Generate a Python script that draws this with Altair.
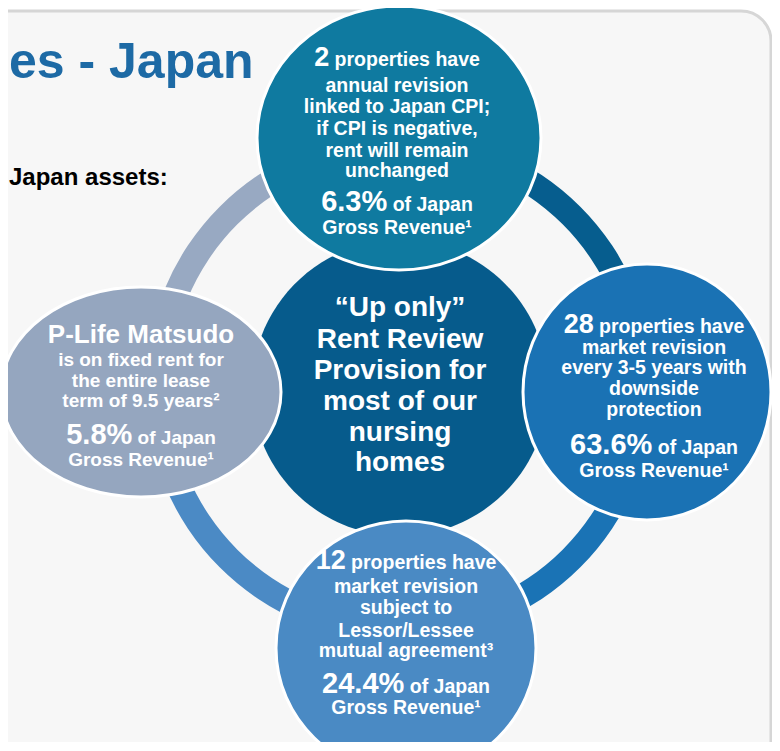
import altair as alt
import pandas as pd
import math

# ---------------- content ----------------
TITLE = "es - Japan"
SUBTITLE = "Japan assets:"
CENTER_LINES = ["\u201cUp only\u201d", "Rent Review", "Provision for", "most of our", "nursing", "homes"]

property_counts = {"top": "2", "right": "28", "bottom": "12"}
revenue_share = {"top": "6.3%", "right": "63.6%", "bottom": "24.4%", "left": "5.8%"}
count_suffix = "properties have"
share_suffix = "of Japan"
share_footer = "Gross Revenue\u00b9"

top_body = ["annual revision", "linked to Japan CPI;", "if CPI is negative,", "rent will remain", "unchanged"]
right_body = ["market revision", "every 3-5 years with", "downside", "protection"]
bottom_body = ["market revision", "subject to", "Lessor/Lessee", "mutual agreement\u00b3"]
left_head = "P-Life Matsudo"
left_body = ["is on fixed rent for", "the entire lease", "term of 9.5 years\u00b2"]

ring_segments = ["top-right", "bottom-right", "bottom-left", "top-left"]

# ---------------- layout / style ----------------
W, H = 764, 734
FONT = "Liberation Sans"
sx = alt.Scale(domain=[8, 8 + W], nice=False, zero=False)
sy = alt.Scale(domain=[8, 8 + H], nice=False, zero=False, reverse=True)

CIRCLES = {
    "center": dict(cx=400, cy=388, rx=148, ry=148, fill="#065b8c", stroke=0),
    "top":    dict(cx=399, cy=138, rx=142, ry=132, fill="#0f7aa0", stroke=3),
    "right":  dict(cx=647, cy=392, rx=124, ry=128, fill="#1a72b4", stroke=3),
    "bottom": dict(cx=406, cy=648, rx=130, ry=127, fill="#4a8ac4", stroke=3),
    "left":   dict(cx=141, cy=392, rx=140, ry=105, fill="#95a6bf", stroke=3),
}
RING = dict(cx=400, cy=387, outer=255, inner=230)
RING_COLORS = ["#065d8e", "#1a73b5", "#4b8ac5", "#98a9c2"]

TEXT_X = {"top": 397, "right": 654, "bottom": 406, "left": 141, "center": 400}
BASELINES = {
    "top": [66, 92, 113, 135, 157, 177, 211, 234],
    "right": [333, 354, 374, 395, 416, 454, 477],
    "bottom": [569, 593, 614, 637, 657, 693, 714],
    "left": [343, 366, 387, 407, 444, 466],
    "center": [316, 348, 379, 410, 441, 471],
}
SMALL = {"top": 19.5, "right": 19.5, "bottom": 19.5, "left": 19}
BIG_COUNT, BIG_SHARE, HEAD, CENTER_SIZE = 27, 29, 26, 28

# Arial/Liberation Sans Bold advance widths (per 1000 em)
WB = {" ": 278, "%": 889, "-": 333, ".": 278, "/": 278, ":": 333, ";": 333, ",": 278,
      "A": 722, "C": 722, "G": 778, "I": 278, "J": 556, "L": 611, "M": 833, "P": 667, "R": 722,
      "a": 556, "b": 611, "c": 556, "d": 611, "e": 556, "f": 333, "g": 611, "h": 611, "i": 278,
      "j": 278, "k": 556, "l": 278, "m": 889, "n": 611, "o": 611, "p": 611, "r": 389, "s": 556,
      "t": 333, "u": 611, "v": 556, "w": 778, "x": 556, "y": 556}


def tw(s, size):
    return sum(WB.get(ch, 556) for ch in s) * size / 1000.0


def ellipse_path(k):
    c = 0.5523
    return (f"M -1 0 C -1 {-k*c:.4f} {-c} {-k:.4f} 0 {-k:.4f} "
            f"C {c} {-k:.4f} 1 {-k*c:.4f} 1 0 "
            f"C 1 {k*c:.4f} {c} {k:.4f} 0 {k:.4f} "
            f"C {-c} {k:.4f} -1 {k*c:.4f} -1 0 Z")


# ---------------- text rows ----------------
rows_c, rows_r, rows_l = [], [], []


def add_center(text, x, y, size, color="white"):
    rows_c.append(dict(x=x, y=y, text=text, size=size, color=color))


def add_mixed(big, small, x, y, bsize, ssize):
    wb = tw(big, bsize)
    ws = tw(" " + small, ssize)
    start = x - (wb + ws) / 2
    rows_r.append(dict(x=start + wb, y=y, text=big, size=bsize, color="white"))
    rows_l.append(dict(x=start + wb + tw(" ", ssize), y=y, text=small, size=ssize, color="white"))


for key, body in [("top", top_body), ("right", right_body), ("bottom", bottom_body)]:
    ys = BASELINES[key]
    x = TEXT_X[key]
    add_mixed(property_counts[key], count_suffix, x, ys[0], BIG_COUNT, SMALL[key])
    for line, y in zip(body, ys[1:1 + len(body)]):
        add_center(line, x, y, SMALL[key])
    add_mixed(revenue_share[key], share_suffix, x, ys[-2], BIG_SHARE, SMALL[key])
    add_center(share_footer, x, ys[-1], SMALL[key])

ys = BASELINES["left"]
x = TEXT_X["left"]
add_center(left_head, x, ys[0], HEAD)
for line, y in zip(left_body, ys[1:4]):
    add_center(line, x, y, SMALL["left"])
add_mixed(revenue_share["left"], share_suffix, x, ys[-2], BIG_SHARE, SMALL["left"])
add_center(share_footer, x, ys[-1], SMALL["left"])

for line, y in zip(CENTER_LINES, BASELINES["center"]):
    add_center(line, TEXT_X["center"], y, CENTER_SIZE)

rows_l.append(dict(x=9, y=78, text=TITLE, size=50, color="#1d6aa5"))
rows_l.append(dict(x=9, y=185, text=SUBTITLE, size=24, color="#000000"))

# ---------------- shape rows ----------------
circ_rows = []
for name, c in CIRCLES.items():
    circ_rows.append(dict(name=name, x=c["cx"], y=c["cy"], size=(2 * c["rx"]) ** 2,
                          shape=ellipse_path(c["ry"] / c["rx"]), fill=c["fill"], sw=c["stroke"]))
circ_df = pd.DataFrame(circ_rows)

ring_df = pd.DataFrame({
    "seg": ring_segments,
    "t0": [i * math.pi / 2 for i in range(4)],
    "t1": [(i + 1) * math.pi / 2 for i in range(4)],
    "color": RING_COLORS,
    "x": [RING["cx"]] * 4,
    "y": [RING["cy"]] * 4,
})

panel_df = pd.DataFrame([dict(x=-60, x2=771, y=11, y2=820)])

X = lambda f: alt.X(f, type="quantitative", scale=sx, axis=None)
Y = lambda f: alt.Y(f, type="quantitative", scale=sy, axis=None)

panel = alt.Chart(panel_df).mark_rect(cornerRadius=30, fill="#f7f7f7", stroke="#d6d6d6",
                                       strokeWidth=3).encode(
    x=X("x"), x2="x2", y=Y("y"), y2="y2")

ring = alt.Chart(ring_df).mark_arc(radius=RING["outer"], radius2=RING["inner"]).encode(
    x=X("x"), y=Y("y"),
    theta=alt.Theta("t0:Q", scale=None, stack=None),
    theta2="t1:Q",
    color=alt.Color("color:N", scale=None))

center_c = alt.Chart(circ_df[circ_df.name == "center"]).mark_point(filled=True, opacity=1).encode(
    x=X("x"), y=Y("y"),
    shape=alt.Shape("shape:N", scale=None),
    size=alt.Size("size:Q", scale=None),
    fill=alt.Fill("fill:N", scale=None))

outer_c = alt.Chart(circ_df[circ_df.name != "center"]).mark_point(
    filled=True, opacity=1, stroke="white", strokeWidth=3, strokeOpacity=1).encode(
    x=X("x"), y=Y("y"),
    shape=alt.Shape("shape:N", scale=None),
    size=alt.Size("size:Q", scale=None),
    fill=alt.Fill("fill:N", scale=None))


def text_layer(rows, align):
    return alt.Chart(pd.DataFrame(rows)).mark_text(
        font=FONT, fontWeight="bold", align=align, baseline="alphabetic").encode(
        x=X("x"), y=Y("y"), text="text:N",
        size=alt.Size("size:Q", scale=None),
        color=alt.Color("color:N", scale=None))


chart = alt.layer(
    panel, ring, center_c, outer_c,
    text_layer(rows_c, "center"), text_layer(rows_r, "right"), text_layer(rows_l, "left"),
).properties(
    width=W, height=H, padding=0, autosize=alt.AutoSizeParams(type="none"),
).configure_view(stroke=None)

chart.save("out.html", embed_options={"renderer": "svg", "actions": False})
